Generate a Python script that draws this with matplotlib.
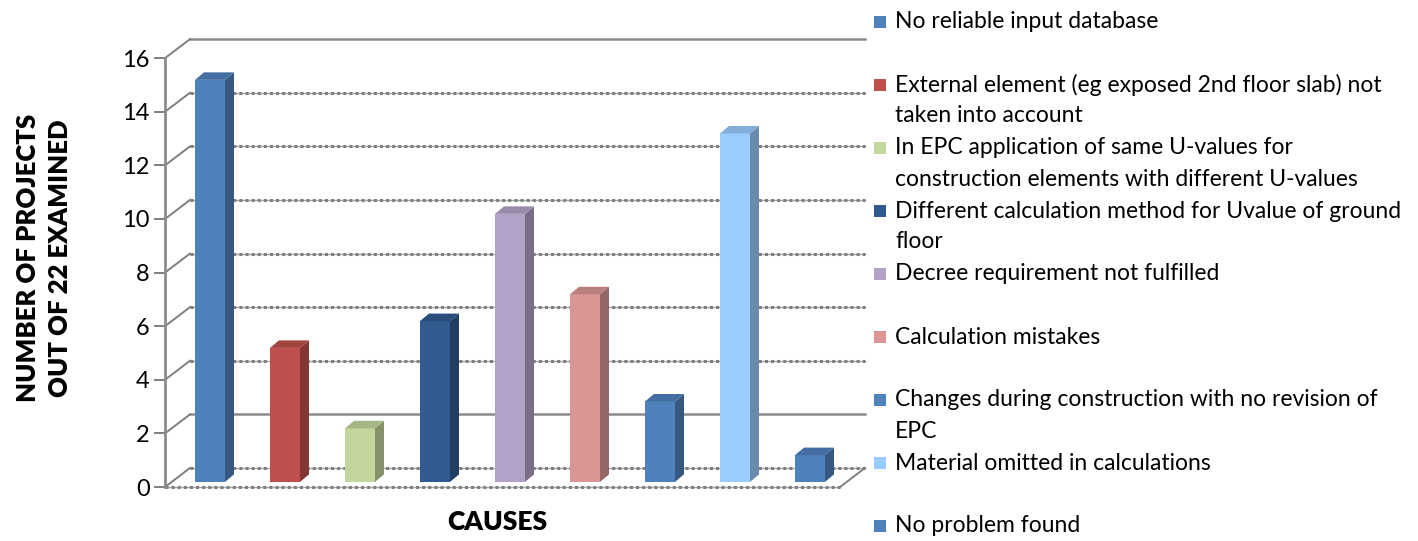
import numpy as np
import matplotlib
matplotlib.use("Agg")
import matplotlib.pyplot as plt
from matplotlib.patches import Polygon, Rectangle
from matplotlib.colors import to_rgb

plt.rcParams['font.family'] = ['Lato', 'DejaVu Sans']

causes = [
    "No reliable input database",
    "External element (eg exposed 2nd floor slab) not\ntaken into account",
    "In EPC application of same U-values for\nconstruction elements with different U-values",
    "Different calculation method for Uvalue of ground\nfloor",
    "Decree requirement not fulfilled",
    "Calculation mistakes",
    "Changes during construction with no revision of\nEPC",
    "Material omitted in calculations",
    "No problem found",
]
counts = [15, 5, 2, 6, 10, 7, 3, 13, 1]
colors = ["#4F81BD", "#C0504D", "#C3D69B", "#2F5B8F", "#B3A2C7",
          "#D99694", "#4F81BD", "#99CCFF", "#4F81BD"]
yticks = list(range(0, 17, 2))
solid_grid = [16, 2]


def shade(c, f):
    r, g, b = to_rgb(c)
    return (r * f, g * f, b * f)


W, H = 1418, 541
fig = plt.figure(figsize=(W / 100, H / 100), dpi=100)
ax = fig.add_axes([140 / W, 1 - 500 / H, 740 / W, 470 / H])
ax.set_xlim(-0.9333, 8.9333)
ax.set_ylim(-0.485, 17.05)

# pseudo-3d geometry (category units / value units)
x_front, x_end = -0.6, 8.4
ddx, ddy = 0.333, 0.709          # wall depth offset
bw = 0.4                          # bar width
base = 0.19                       # bar front face sits a bit into the floor
bdx, bdy = 0.12, 0.28             # bar depth offset
grid_col = "#8C8C8C"

# back wall gridlines and left wall slants
for v in yticks:
    yb = v + ddy
    if v in solid_grid:
        ax.plot([x_front + ddx, x_end + ddx], [yb, yb], color=grid_col, lw=1.8, zorder=1)
    else:
        ax.plot([x_front + ddx, x_end + ddx], [yb, yb], color="#A6A6A6", lw=1.0, zorder=1)
        ax.plot([x_front + ddx, x_end + ddx], [yb, yb], color="#7F7F7F", lw=2.2,
                ls=(0, (1, 1)), zorder=1)
    ax.plot([x_front, x_front + ddx], [v, yb], color="#7F7F7F", lw=1.4, zorder=1)

# floor edges
ax.plot([x_front, x_end], [0, 0], color="#A6A6A6", lw=1.0, zorder=1)
ax.plot([x_front, x_end], [0, 0], color="#7F7F7F", lw=2.2, ls=(0, (1, 1)), zorder=1)
ax.plot([x_end, x_end + ddx], [0, ddy], color="#7F7F7F", lw=1.4, zorder=1)

# bars: front face from ax.bar, side and top faces as polygons
xs = np.arange(len(counts))
ax.bar(xs, counts, width=bw, bottom=base, color=colors, zorder=3, linewidth=0)
for x, v, c in zip(xs, counts, colors):
    r = x + bw / 2
    l = x - bw / 2
    top = base + v
    side = Polygon([(r, base), (r + bdx, base + bdy), (r + bdx, top + bdy), (r, top)],
                   closed=True, facecolor=shade(c, 0.68), edgecolor="none", zorder=3)
    lid = Polygon([(l, top), (r, top), (r + bdx, top + bdy), (l + bdx, top + bdy)],
                  closed=True, facecolor=shade(c, 0.85), edgecolor="none", zorder=3)
    ax.add_patch(side)
    ax.add_patch(lid)

# front value axis
for s in ["top", "right", "bottom"]:
    ax.spines[s].set_visible(False)
ax.spines["left"].set_position(("data", x_front))
ax.spines["left"].set_bounds(0, 16)
ax.spines["left"].set_color("#8C8C8C")
ax.spines["left"].set_linewidth(2.0)
ax.spines["left"].set_linestyle((0, (1, 1)))
ax.set_yticks(yticks)
ax.tick_params(axis="y", length=8, width=1.4, color="#7F7F7F", labelsize=17, pad=3)
ax.set_xticks([])

fig.text(28 / W, 1 - 258 / H, "NUMBER OF PROJECTS", rotation=90, fontsize=18.5,
         fontweight="heavy", ha="center", va="center")
fig.text(60 / W, 1 - 258 / H, "OUT OF 22 EXAMINED", rotation=90, fontsize=18.5,
         fontweight="heavy", ha="center", va="center")
fig.text(497 / W, 1 - 522 / H, "CAUSES", fontsize=19, fontweight="heavy",
         ha="center", va="center")

# legend
row0, row_step, line_step = 22, 63.0, 31
for i, (lab, c) in enumerate(zip(causes, colors)):
    yc = row0 + i * row_step
    fig.patches.append(Rectangle((874 / W, 1 - (yc + 6) / H), 12 / W, 12 / H,
                                 transform=fig.transFigure, facecolor=c,
                                 edgecolor="none"))
    for k, line in enumerate(lab.split("\n")):
        fig.text(895 / W, 1 - (yc + k * line_step) / H, line, fontsize=16.5,
                 ha="left", va="center")

fig.savefig("out.png", dpi=100)
